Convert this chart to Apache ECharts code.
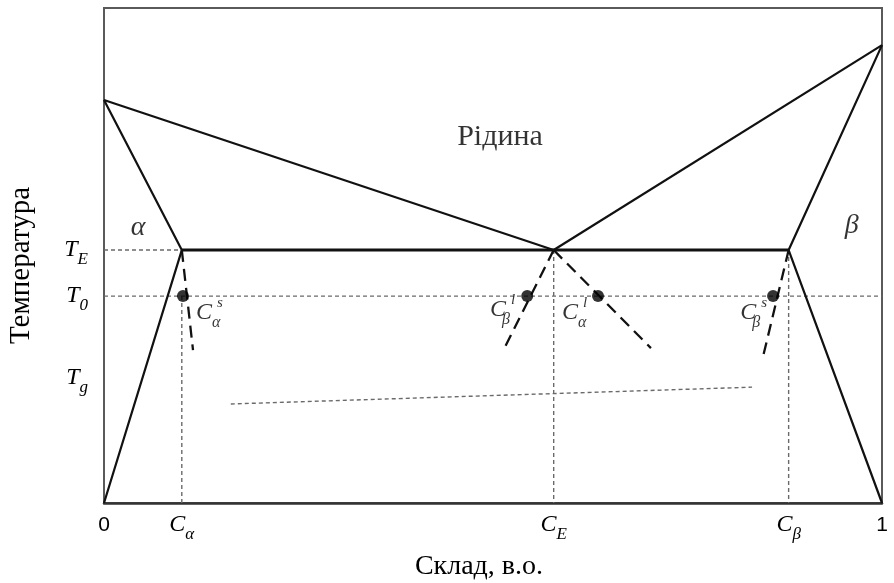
<!DOCTYPE html>
<html><head><meta charset="utf-8">
<script src="https://cdn.jsdelivr.net/npm/echarts@6/dist/echarts.min.js"></script>
<style>html,body{margin:0;padding:0;background:#fff}#c{width:894px;height:583px}</style>
</head><body><div id="c"></div>
<script>
// ---- data ----
const compTicks = [0, 0.1, 0.578, 0.88, 1];
const compTickMain = ['0', 'C', 'C', 'C', '1'];
const compTickSub = ['', 'α', 'E', 'β', ''];
const tempTicks = [51.1, 41.8, 25.3];
const tempTickSub = ['E', '0', 'g'];

const liquidusLeft = [[0, 81.4], [0.578, 51.1]];
const liquidusRight = [[0.578, 51.1], [1, 92.5]];
const alphaBoundary = [[0, 81.4], [0.1, 51.1], [0, 0]];
const betaBoundary = [[1, 92.5], [0.88, 51.1], [1, 0]];
const eutecticLine = [[0.1, 51.1], [0.88, 51.1]];
const teGuide = [[0, 51.1], [0.1, 51.1]];
const t0Guide = [[0, 41.8], [1, 41.8]];
const cAlphaGuide = [[0.1, 41.8], [0.1, 0]];
const cEGuide = [[0.578, 51.1], [0.578, 0]];
const cBetaGuide = [[0.88, 51.1], [0.88, 0]];
const tgLine = [[0.163, 20.0], [0.833, 23.4]];
const metaAlphaSolidus = [[0.1, 51.1], [0.1144, 30.9]];
const metaBetaLiquidus = [[0.578, 51.1], [0.514, 31.1]];
const metaAlphaLiquidus = [[0.578, 51.1], [0.703, 31.3]];
const metaBetaSolidus = [[0.88, 51.1], [0.847, 29.5]];
const t0Points = [[0.1015, 41.8], [0.544, 41.8], [0.635, 41.8], [0.860, 41.8]];
const t0PointSub = ['α', 'β', 'α', 'β'];
const t0PointSup = ['s', 'l', 'l', 's'];
const regionNames = ['Рідина', 'α', 'β'];
const regionPos = [[0.509, 73.9], [0.0437, 55.6], [0.961, 56.0]];

// ---- styling / construction ----
const SERIF = "'Liberation Serif','DejaVu Serif',serif";
const SANS = "'Liberation Sans','DejaVu Sans',sans-serif";
const INK = '#000';
const symRich = {
  c: {fontFamily: SERIF, fontStyle: 'italic', fontSize: 24, color: INK, lineHeight: 36},
  s: {fontFamily: SERIF, fontStyle: 'italic', fontSize: 16, color: INK, verticalAlign: 'bottom', lineHeight: 16, width: 0, align: 'left'},
  sl: {fontFamily: SERIF, fontStyle: 'italic', fontSize: 17, color: INK, verticalAlign: 'bottom', lineHeight: 16},
  p: {fontFamily: SERIF, fontStyle: 'italic', fontSize: 15, color: INK, verticalAlign: 'top', lineHeight: 12, padding: [0, 0, 0, 5]},
  n: {fontFamily: SANS, fontSize: 21, color: INK, lineHeight: 36}
};

function solid(data, w) {
  return {type: 'line', data, symbol: 'none', silent: true, z: 5,
    lineStyle: {color: '#111', width: w || 2.2, type: 'solid'}};
}
function guide(data, z) {
  return {type: 'line', data, symbol: 'none', silent: true, z: z || 2,
    lineStyle: {color: '#6a6a6a', width: 1.4, type: [4, 3]}};
}
function meta(data) {
  return {type: 'line', data, symbol: 'none', silent: true, z: 4,
    lineStyle: {color: '#111', width: 2.3, type: [12, 7]}};
}

const pointLabelPlace = [
  {align: 'left', offset: [13, 17]},
  {align: 'right', offset: [-12, 14]},
  {align: 'left', offset: [-36, 17]},
  {align: 'right', offset: [-6, 17]}
];

const pointData = t0Points.map((p, i) => ({
  value: p,
  label: {show: true, position: 'inside', verticalAlign: 'middle',
    align: pointLabelPlace[i].align, offset: pointLabelPlace[i].offset,
    formatter: '{c|C}{s|' + t0PointSub[i] + '}{p|' + t0PointSup[i] + '}', rich: symRich}
}));

const regionStyles = [
  {fontFamily: SERIF, fontSize: 30, color: INK},
  {fontFamily: SERIF, fontSize: 28, fontStyle: 'italic', color: INK},
  {fontFamily: SERIF, fontSize: 28, fontStyle: 'italic', color: INK}
];
const regionData = regionPos.map((p, i) => ({
  value: p,
  label: Object.assign({show: true, position: 'inside', formatter: regionNames[i]}, regionStyles[i])
}));

const option = {
  animation: false,
  backgroundColor: '#fff',
  grid: {left: 104, right: 12, top: 8, bottom: 80, containLabel: false, outerBoundsMode: 'none',
    show: true, borderColor: '#5a5a5a', borderWidth: 2, backgroundColor: 'transparent'},
  xAxis: {
    type: 'value', min: 0, max: 1,
    name: 'Склад, в.о.', nameLocation: 'middle', nameGap: 50, nameMoveOverlap: false,
    nameTextStyle: {fontFamily: SERIF, fontSize: 28, color: INK, padding: [0, 28, 0, 0]},
    axisLine: {show: true, lineStyle: {color: '#333', width: 2.5}},
    axisTick: {show: false}, splitLine: {show: false},
    axisLabel: {
      customValues: compTicks, margin: 4, showMinLabel: true, showMaxLabel: true,
      formatter: function (v) {
        const i = compTicks.findIndex(t => Math.abs(t - v) < 1e-6);
        if (i < 0) return '';
        if (!compTickSub[i]) return '{n|' + compTickMain[i] + '}';
        return '{c|' + compTickMain[i] + '}{sl|' + compTickSub[i] + '}';
      },
      rich: symRich
    }
  },
  yAxis: {
    type: 'value', min: 0, max: 100,
    name: 'Температура', nameLocation: 'middle', nameGap: 68, nameMoveOverlap: false,
    nameTextStyle: {fontFamily: SERIF, fontSize: 29, color: INK, padding: [0, 20, 0, 0]},
    axisLine: {show: false}, axisTick: {show: false}, splitLine: {show: false},
    axisLabel: {
      customValues: tempTicks, margin: 16,
      formatter: function (v) {
        const i = tempTicks.findIndex(t => Math.abs(t - v) < 1e-6);
        if (i < 0) return '';
        return '{c|T}{sl|' + tempTickSub[i] + '}';
      },
      rich: symRich
    }
  },
  series: [
    guide(teGuide), guide(t0Guide), guide(cAlphaGuide), guide(cEGuide), guide(cBetaGuide), guide(tgLine),
    solid(liquidusLeft), solid(liquidusRight), solid(alphaBoundary), solid(betaBoundary),
    solid(eutecticLine, 3),
    meta(metaAlphaSolidus), meta(metaBetaLiquidus), meta(metaAlphaLiquidus), meta(metaBetaSolidus),
    {type: 'scatter', data: pointData, symbol: 'circle', symbolSize: 12, z: 6, silent: true,
      itemStyle: {color: '#000'}},
    {type: 'scatter', data: regionData, symbolSize: 1, z: 7, silent: true,
      itemStyle: {color: 'transparent'}}
  ]
};

const chart = echarts.init(document.getElementById('c'), null, {renderer: 'canvas'});
chart.setOption(option);
</script>
</body></html>
